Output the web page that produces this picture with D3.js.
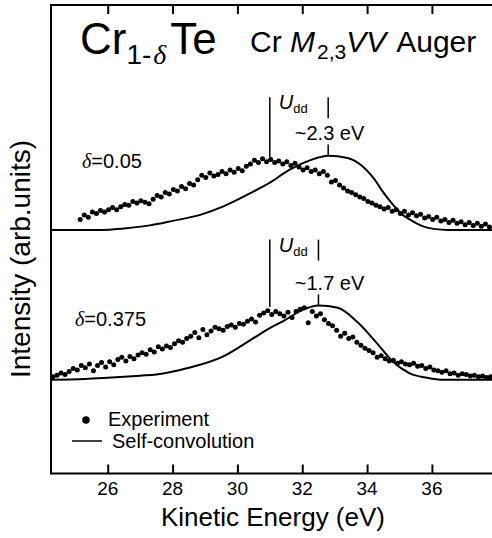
<!DOCTYPE html>
<html>
<head>
<meta charset="utf-8">
<script src="https://cdn.jsdelivr.net/npm/d3@7"></script>
<style>
  body { margin: 0; background: #fff; }
  text { font-family: "Liberation Sans", Arial, Helvetica, sans-serif; fill: #000; }
  .frame { fill: none; stroke: #000; stroke-width: 2; }
  .curve { fill: none; stroke: #000; stroke-width: 2; }
  .marker { stroke: #000; stroke-width: 1.5; }
  .dot { fill: #000; }
</style>
</head>
<body>
<svg id="plane" width="492" height="538"></svg>
<script>
(function() {

  // Energy grid of the measured spectra (eV): first channel and channel step.
  var expStart05 = 25.15;
  var expStart375 = 24.31;
  var expStep = 0.125;

  // Experiment, delta = 0.05 (arb. units, baseline 0, peak ~1).
  var exp05 = [
    0.14, 0.20, 0.17, 0.24, 0.22, 0.26, 0.24, 0.27,
    0.30, 0.27, 0.31, 0.34, 0.33, 0.38, 0.36, 0.39,
    0.37, 0.35, 0.41, 0.46, 0.44, 0.50, 0.48, 0.54,
    0.52, 0.58, 0.55, 0.62, 0.60, 0.67, 0.73, 0.70,
    0.76, 0.72, 0.74, 0.78, 0.75, 0.80, 0.77, 0.82,
    0.79, 0.85, 0.88, 0.93, 0.90, 0.95, 0.91, 0.94,
    0.90, 0.92, 0.88, 0.91, 0.86, 0.89, 0.84, 0.80,
    0.83, 0.78, 0.80, 0.75, 0.78, 0.73, 0.64, 0.66,
    0.60, 0.56, 0.52, 0.50, 0.47, 0.44, 0.42, 0.38,
    0.36, 0.33, 0.31, 0.28, 0.30, 0.25, 0.27, 0.22,
    0.25, 0.20, 0.23, 0.19, 0.21, 0.16, 0.18, 0.14,
    0.17, 0.12, 0.14, 0.10, 0.13, 0.09, 0.11, 0.07,
    0.10, 0.06, 0.09, 0.05, 0.08, 0.04
  ];

  // Experiment, delta = 0.375.
  var exp375 = [
    0.04, 0.06, 0.09, 0.07, 0.11, 0.15, 0.13, 0.19,
    0.16, 0.21, 0.12, 0.19, 0.23, 0.17, 0.24, 0.20,
    0.27, 0.30, 0.25, 0.31, 0.28, 0.33, 0.36, 0.34,
    0.40, 0.37, 0.44, 0.41, 0.45, 0.43, 0.48, 0.52,
    0.50, 0.55, 0.58, 0.63, 0.56, 0.67, 0.60, 0.65,
    0.70, 0.68, 0.66, 0.71, 0.73, 0.70, 0.75, 0.74,
    0.78, 0.81, 0.77, 0.86, 0.89, 0.92, 0.87, 0.91,
    0.88, 0.85, 0.90, 0.83, 0.91, 0.94, 0.96, 0.76,
    0.91, 0.85, 0.88, 0.80, 0.75, 0.72, 0.66, 0.58,
    0.62, 0.55, 0.57, 0.50, 0.46, 0.42, 0.39, 0.36,
    0.30, 0.32, 0.28, 0.25, 0.26, 0.22, 0.24, 0.21,
    0.20, 0.22, 0.18, 0.19, 0.15, 0.17, 0.13, 0.12,
    0.10, 0.12, 0.08, 0.09, 0.06, 0.08, 0.07, 0.05,
    0.06, 0.04, 0.05, 0.03, 0.04
  ];

  // Self-convolution curves: [energy, intensity].
  var conv05 = [
    [24.25, 0], [25.8, 0], [26.5, 0.02], [27.3, 0.06], [28.0, 0.12],
    [28.85, 0.2], [29.55, 0.31], [30.4, 0.49], [31.0, 0.63], [31.6, 0.8],
    [32.25, 0.93], [32.8, 0.99], [33.4, 0.96], [33.8, 0.87], [34.2, 0.69],
    [34.5, 0.5], [34.85, 0.31], [35.1, 0.2], [35.35, 0.13], [35.7, 0.05],
    [36.1, 0.01], [36.5, 0], [38.1, 0]
  ];
  var conv375 = [
    [24.25, 0], [25.3, 0.01], [26.0, 0.027], [27.0, 0.055], [27.5, 0.07],
    [28.5, 0.16], [29.55, 0.31], [30.4, 0.53], [31.0, 0.69], [31.4, 0.78],
    [32.0, 0.93], [32.5, 0.99], [33.1, 0.96], [33.7, 0.77], [34.3, 0.49],
    [34.8, 0.24], [35.3, 0.09], [35.85, 0.027], [36.35, 0], [38.1, 0]
  ];

  // Vertical offsets of the two spectra.
  var offsets = [2, 0];

  // U_dd markers: [experiment peak, self-convolution peak] and labels.
  var markers05 = [31.0, 32.8];
  var markers375 = [31.0, 32.5];
  var uddLabels = ["~2.3 eV", "~1.7 eV"];
  var deltaLabels = ["0.05", "0.375"];

  // X ticks.
  var xticks = [26, 28, 30, 32, 34, 36];

  // Scales.
  var x = d3.scaleLinear().domain([24.25, 38.1]).range([51, 500]);
  var y = d3.scaleLinear().domain([-1.25, 5]).range([473.5, 5]);

  var vis = d3.select("#plane");

  // Frame.
  vis.append("path")
     .attr("class", "frame")
     .attr("d", "M500,5H51V473.5H500");

  // Inward ticks on bottom and top.
  var bottom = d3.axisTop(x).tickValues(xticks).tickSize(9).tickFormat("");
  var top = d3.axisBottom(x).tickValues(xticks).tickSize(9).tickFormat("");
  vis.append("g").attr("transform", "translate(0,473.5)").call(bottom)
     .call(function(g) { g.select(".domain").remove(); g.selectAll("line").attr("stroke-width", 2); });
  vis.append("g").attr("transform", "translate(0,5)").call(top)
     .call(function(g) { g.select(".domain").remove(); g.selectAll("line").attr("stroke-width", 2); });

  // Tick labels.
  vis.selectAll(".xlabel")
     .data(xticks)
     .enter()
     .append("text")
     .attr("class", "xlabel")
     .attr("x", function(d) { return x(d); })
     .attr("y", 495)
     .attr("text-anchor", "middle")
     .attr("font-size", 19)
     .text(function(d) { return d; });

  // Axis titles.
  vis.append("text")
     .attr("x", 273).attr("y", 526)
     .attr("text-anchor", "middle")
     .attr("font-size", 26)
     .text("Kinetic Energy (eV)");
  vis.append("text")
     .attr("transform", "translate(30,259) rotate(-90)")
     .attr("text-anchor", "middle")
     .attr("font-size", 28)
     .text("Intensity (arb.units)");

  // Self-convolution curves.
  var line = d3.line()
               .x(function(d) { return x(d[0]); })
               .curve(d3.curveMonotoneX);
  [conv05, conv375].forEach(function(c, i) {
    vis.append("path")
       .attr("class", "curve")
       .attr("d", line.y(function(d) { return y(d[1] + offsets[i]); })(c));
  });

  // Experimental points.
  [[exp05, expStart05], [exp375, expStart375]].forEach(function(s, i) {
    vis.append("g").selectAll("circle")
       .data(s[0])
       .enter()
       .append("circle")
       .attr("class", "dot")
       .attr("cx", function(d, j) { return x(s[1] + j * expStep); })
       .attr("cy", function(d) { return y(d + offsets[i]); })
       .attr("r", 2.5);
  });

  // U_dd markers.
  [markers05, markers375].forEach(function(m, i) {
    var o = offsets[i];
    var topv = o + (i == 0 ? 1.77 : 1.87);
    vis.append("line").attr("class", "marker")
       .attr("x1", x(m[0])).attr("x2", x(m[0]))
       .attr("y1", y(topv)).attr("y2", y(o + 0.97));
    vis.append("line").attr("class", "marker")
       .attr("x1", x(m[1])).attr("x2", x(m[1]))
       .attr("y1", y(topv)).attr("y2", y(topv - 0.28));
    vis.append("line").attr("class", "marker")
       .attr("x1", x(m[1])).attr("x2", x(m[1]))
       .attr("y1", y(o + 1.14)).attr("y2", y(o + 0.99));

    var u = vis.append("text")
               .attr("x", x(m[0]) + 9)
               .attr("y", y(topv) + 12)
               .attr("font-size", 20);
    u.append("tspan").attr("font-style", "italic").text("U");
    u.append("tspan").attr("font-size", 13).attr("dy", 4).text("dd");

    vis.append("text")
       .attr("x", x(m[0]) + 25)
       .attr("y", y(o + 1.2))
       .attr("font-size", 20)
       .text(uddLabels[i]);

    var t = vis.append("text")
               .attr("x", i == 0 ? 82 : 75)
               .attr("y", y(o + (i == 0 ? 0.83 : 0.72)))
               .attr("font-size", 20);
    t.append("tspan").attr("font-family", "Liberation Serif, serif")
     .attr("font-style", "italic").text("\u03b4");
    t.append("tspan").text("=" + deltaLabels[i]);
  });

  // Title.
  var title = vis.append("text").attr("x", 80).attr("y", 54).attr("font-size", 44);
  title.append("tspan").text("Cr");
  title.append("tspan").attr("font-size", 28).attr("dy", 10).text("1-");
  title.append("tspan").attr("font-size", 28).attr("dx", 2)
       .attr("font-family", "Liberation Serif, serif").attr("font-style", "italic").text("\u03b4");
  title.append("tspan").attr("dy", -10).attr("dx", 4).text("Te");

  var sub = vis.append("text").attr("x", 250).attr("y", 52).attr("font-size", 30);
  sub.append("tspan").text("Cr ");
  sub.append("tspan").attr("font-style", "italic").text("M");
  sub.append("tspan").attr("font-size", 21).attr("dy", 7).attr("dx", 2).text("2,3");
  sub.append("tspan").attr("font-style", "italic").attr("dy", -7).text("VV");
  sub.append("tspan").attr("dx", 10).text("Auger");

  // Legend.
  vis.append("circle").attr("cx", 86).attr("cy", 420).attr("r", 3.8).attr("class", "dot");
  vis.append("text").attr("x", 108).attr("y", 426).attr("font-size", 20).text("Experiment");
  vis.append("line").attr("x1", 72).attr("x2", 102).attr("y1", 441).attr("y2", 441)
     .attr("stroke", "#000").attr("stroke-width", 1.5);
  vis.append("text").attr("x", 112).attr("y", 448).attr("font-size", 20).text("Self-convolution");

})();
</script>
</body>
</html>
